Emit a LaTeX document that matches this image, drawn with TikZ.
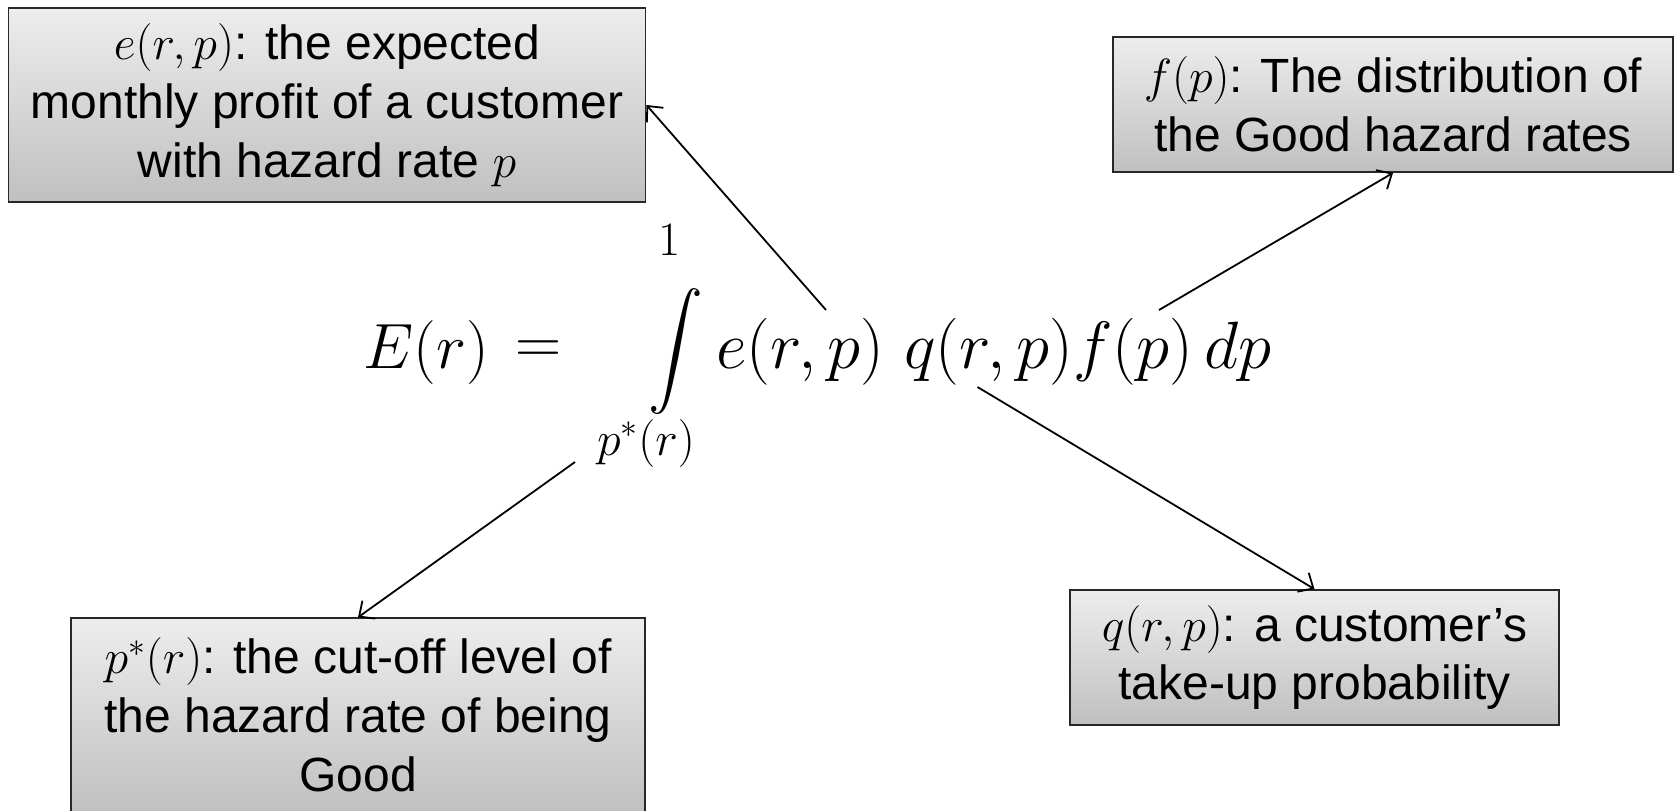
\RequirePackage{fix-cm}
\documentclass[tikz,border=0pt]{standalone}
\usepackage{exscale}
\usepackage{graphicx}
\usepackage{fontspec}
\setmainfont{Liberation Sans}
\usetikzlibrary{arrows.meta,shadings}
\definecolor{boxtop}{RGB}{237,237,237}
\definecolor{boxbot}{RGB}{192,192,192}
\definecolor{boxline}{RGB}{40,40,40}
\tikzset{
  infobox/.style={draw=boxline, line width=0.9pt, top color=boxtop, bottom color=boxbot,
    align=center, inner sep=0pt, font=\fontsize{24}{29.4}\selectfont},
  pointer/.style={draw=black, line width=0.9pt, -{Straight Barb[length=6pt,width=11pt]}},
  eqbig/.style={inner sep=0pt, font=\fontsize{32}{38}\selectfont},
  eqint/.style={inner sep=0pt, font=\fontsize{33.5}{40}\selectfont},
  eqsmall/.style={inner sep=0pt, font=\fontsize{24}{28}\selectfont}
}
\begin{document}
\begin{tikzpicture}[x=0.5pt,y=-0.5pt]
\useasboundingbox (0,0) rectangle (1675,810);
% boxes
\node[infobox, minimum width=318.5pt, minimum height=96.75pt] (ebox) at (327,105)
  {$e(r,p)$: the expected\\monthly profit of a customer\\with hazard rate $p$};
\node[infobox, minimum width=280pt, minimum height=67.5pt] (fbox) at (1393,104.5)
  {$f(p)$: The distribution of\\the Good hazard rates};
\node[infobox, minimum width=287pt, minimum height=96.75pt] (pbox) at (358,715)
  {$p^*(r)$: the cut-off level of\\the hazard rate of being\\Good};
\node[infobox, minimum width=244.5pt, minimum height=67.5pt] (qbox) at (1314.5,657.5)
  {$q(r,p)$: a customer’s\\take-up probability};
% equation
\node[eqbig, anchor=base west] (Er) at (363,368) {$E(r)$};
\node[eqbig] (eqsign) at (539,352) {$=$};
\node[eqbig] (intsign) at (676,352) {\scalebox{1.1}[1.14]{$\displaystyle\int$}};
\node[eqsmall] (upper) at (669,240) {$1$};
\node[eqsmall] (lower) at (646,443) {$p^*(r)$};
\node[eqint, anchor=base west] (efun) at (716,368) {$e(r,p)$};
\node[eqint, anchor=base west] (rest) at (904,368) {$q(r,p)f(p)\,dp$};
% connector ends
\coordinate (c1) at (826,310);
\coordinate (c2) at (1159,310);
\coordinate (c3) at (575,462);
\coordinate (c4) at (977.5,387);
\draw[pointer] (c1) -- (ebox.east);
\draw[pointer] (c2) -- (fbox.south);
\draw[pointer] (c3) -- (pbox.north);
\draw[pointer] (c4) -- (qbox.north);
\end{tikzpicture}
\end{document}
